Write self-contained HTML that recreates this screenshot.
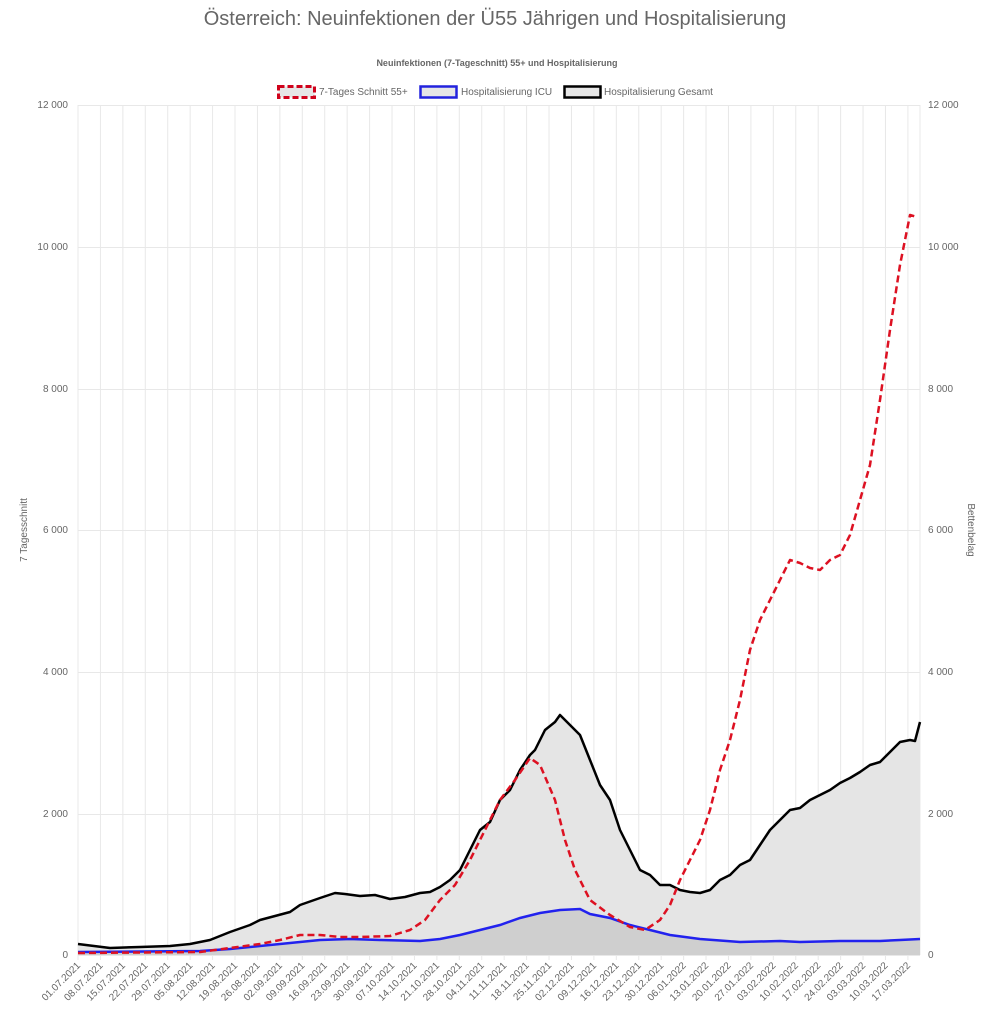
<!DOCTYPE html>
<html><head><meta charset="utf-8"><style>
body{margin:0;background:#fff;width:991px;height:1023px;overflow:hidden;font-family:"Liberation Sans",Arial,sans-serif}
</style></head><body>
<svg width="991" height="1023" viewBox="0 0 991 1023" xmlns="http://www.w3.org/2000/svg" font-family="Liberation Sans, Arial, sans-serif">
<text x="495" y="25" font-size="20" fill="#666" text-anchor="middle">Österreich: Neuinfektionen der Ü55 Jährigen und Hospitalisierung</text>
<text x="497" y="66" font-size="9" font-weight="bold" fill="#666" text-anchor="middle">Neuinfektionen (7-Tageschnitt) 55+ und Hospitalisierung</text>
<rect x="278.5" y="86.5" width="36" height="11" fill="#e6e6e6" stroke="#d0021b" stroke-width="3" stroke-dasharray="6,3"/>
<text x="319" y="95" font-size="10" fill="#666">7-Tages Schnitt 55+</text>
<rect x="420.5" y="86.5" width="36" height="11" fill="#e6e6e6" stroke="#2222dd" stroke-width="2.5"/>
<text x="461" y="95" font-size="10" fill="#666">Hospitalisierung ICU</text>
<rect x="564.5" y="86.5" width="36" height="11" fill="#e6e6e6" stroke="#000" stroke-width="2.5"/>
<text x="604" y="95" font-size="10" fill="#666">Hospitalisierung Gesamt</text>
<g id="grid" stroke="#e8e8e8" stroke-width="1"></g>
<g font-size="10" fill="#666">
<text x="68" y="108" text-anchor="end">12 000</text><text x="68" y="250" text-anchor="end">10 000</text><text x="68" y="392" text-anchor="end">8 000</text><text x="68" y="533" text-anchor="end">6 000</text><text x="68" y="675" text-anchor="end">4 000</text><text x="68" y="817" text-anchor="end">2 000</text><text x="68" y="958" text-anchor="end">0</text>
<text x="928" y="108">12 000</text><text x="928" y="250">10 000</text><text x="928" y="392">8 000</text><text x="928" y="533">6 000</text><text x="928" y="675">4 000</text><text x="928" y="817">2 000</text><text x="928" y="958">0</text>
<text transform="translate(27,530) rotate(-90)" text-anchor="middle">7 Tagesschnitt</text>
<text transform="translate(968,530) rotate(90)" text-anchor="middle">Bettenbelag</text>
</g>
<g id="xl" font-size="10" fill="#666"></g>
<path d="M78,944 L110,948 140,947 170,946 190,944 210,940 230,932 250,925 260,920 275,916 290,912 300,905 320,898 335,893 345,894 360,896 375,895 390,899 405,897 420,893 430,892 440,887 450,880 460,870 470,850 480,830 490,822 500,800 510,790 515,780 520,770 530,755 535,750 545,730 555,722 560,715 570,725 580,735 590,760 600,785 610,800 620,830 630,850 640,870 650,875 660,885 670,885 680,890 690,892 700,893 710,890 720,880 730,875 740,865 750,860 760,845 770,830 780,820 790,810 800,808 810,800 820,795 830,790 840,783 850,778 860,772 870,765 880,762 890,752 900,742 910,740 915,741 920,722 L920,955 L78,955Z" fill="#e5e5e5"/>
<path d="M78,952 L200,951 230,949 260,946 290,943 320,940 350,939 380,940 420,941 440,939 460,935 480,930 500,925 520,918 540,913 560,910 580,909 590,914 610,918 630,925 650,930 670,935 700,939 740,942 780,941 800,942 840,941 880,941 900,940 920,939 L920,955 L78,955Z" fill="#cfcfcf"/>
<polyline fill="none" stroke="#000" stroke-width="2.5" stroke-linejoin="round" points="78,944 110,948 140,947 170,946 190,944 210,940 230,932 250,925 260,920 275,916 290,912 300,905 320,898 335,893 345,894 360,896 375,895 390,899 405,897 420,893 430,892 440,887 450,880 460,870 470,850 480,830 490,822 500,800 510,790 515,780 520,770 530,755 535,750 545,730 555,722 560,715 570,725 580,735 590,760 600,785 610,800 620,830 630,850 640,870 650,875 660,885 670,885 680,890 690,892 700,893 710,890 720,880 730,875 740,865 750,860 760,845 770,830 780,820 790,810 800,808 810,800 820,795 830,790 840,783 850,778 860,772 870,765 880,762 890,752 900,742 910,740 915,741 920,722"/>
<polyline fill="none" stroke="#2222ee" stroke-width="2.5" points="78,952 200,951 230,949 260,946 290,943 320,940 350,939 380,940 420,941 440,939 460,935 480,930 500,925 520,918 540,913 560,910 580,909 590,914 610,918 630,925 650,930 670,935 700,939 740,942 780,941 800,942 840,941 880,941 900,940 920,939"/>
<polyline fill="none" stroke="#dd1122" stroke-width="2.5" stroke-dasharray="7,4" stroke-linejoin="round" points="78,953 200,952 230,948 260,944 280,940 300,935 320,935 340,937 360,937 390,936 410,930 425,920 440,900 455,885 470,860 485,830 500,800 515,780 530,758 540,765 555,800 565,840 575,870 590,900 610,915 630,927 645,930 660,920 670,905 680,880 690,860 700,840 710,810 720,770 730,740 740,700 750,650 760,620 770,600 780,580 790,560 800,563 810,568 820,570 830,560 840,555 850,535 860,500 870,465 880,400 890,330 900,265 910,215 917,217"/>
</svg>
<script>
var ns="http://www.w3.org/2000/svg",g=document.getElementById('grid'),xl=document.getElementById('xl');
function ln(x1,y1,x2,y2){var l=document.createElementNS(ns,'line');l.setAttribute('x1',x1);l.setAttribute('y1',y1);l.setAttribute('x2',x2);l.setAttribute('y2',y2);g.appendChild(l);}
[105,247,389,530,672,814,955].forEach(function(y){ln(78,y+.5,920,y+.5);});
var d=new Date(2021,6,1);
for(var i=0;i<=37;i++){var x=78+i*22.43;ln(x,105,x,960);
var dd=('0'+d.getDate()).slice(-2)+'.'+('0'+(d.getMonth()+1)).slice(-2)+'.'+d.getFullYear();
var t=document.createElementNS(ns,'text');t.setAttribute('text-anchor','end');t.setAttribute('transform','translate('+(x+3)+',966) rotate(-45)');t.textContent=dd;xl.appendChild(t);
d.setDate(d.getDate()+7);}
ln(920,105,920,955);
</script>
</body></html>
